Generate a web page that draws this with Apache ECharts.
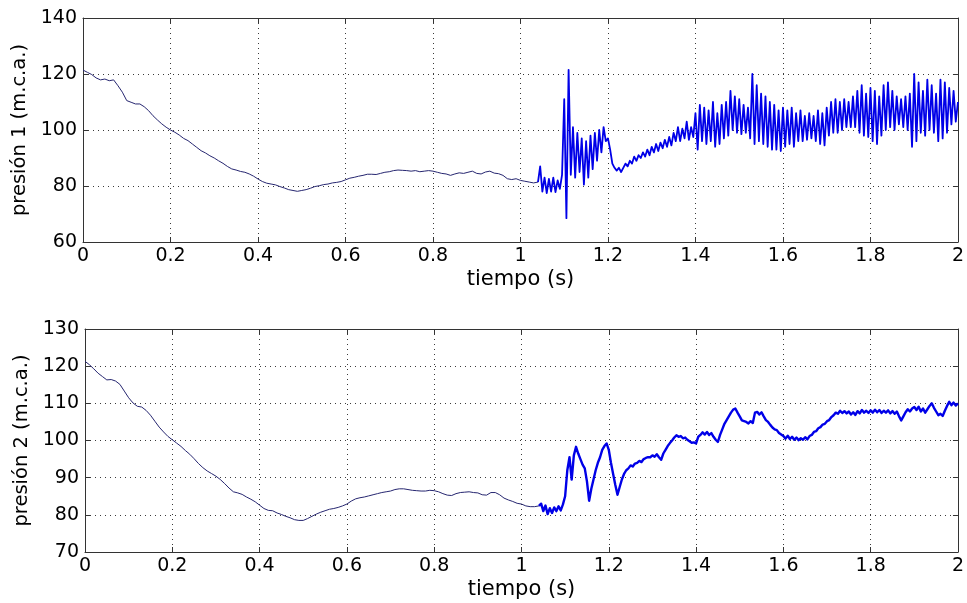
<!DOCTYPE html>
<html>
<head>
<meta charset="utf-8">
<script src="https://cdn.jsdelivr.net/npm/echarts@6/dist/echarts.min.js"></script>
<style>
  html, body { margin: 0; padding: 0; background: #fff; }
  #chart { width: 967px; height: 603px; }
</style>
</head>
<body>
<div id="chart"></div>
<script>
// ticks
const xTicks = [0, 0.2, 0.4, 0.6, 0.8, 1, 1.2, 1.4, 1.6, 1.8, 2];
const y1Ticks = [60, 80, 100, 120, 140];
const y2Ticks = [70, 80, 90, 100, 110, 120, 130];

// sampling: slow part 0..1.04 every 0.01 s, fast part 1.045..2 every 0.005 s
const slowStep = 0.01;
const fastStart = 1.045;
const fastStep = 0.005;

// presión 1, 0 - 1.04 s
const p1Slow = [
  121.4, 120.6, 119.8, 118.6, 117.9, 118.2, 117.6, 117.9, 115.8, 113.5,
  110.5, 109.9, 109.3, 109.3, 108.3, 106.9, 105.1, 103.6, 102.2, 101,
  100, 99.2, 98.2, 97, 96.2, 95, 93.8, 92.6, 91.8, 90.8,
  90, 89, 88.1, 87, 86.1, 85.7, 85.2, 84.9, 84.3, 83.5,
  82.5, 81.6, 81, 80.7, 80.4, 79.8, 79.3, 78.7, 78.4, 78.1,
  78.4, 78.7, 79.2, 79.8, 80.1, 80.5, 80.7, 81.1, 81.3, 81.6,
  82.2, 82.8, 83.1, 83.5, 83.8, 84.2, 84.2, 84.1, 84.5, 84.9,
  85.1, 85.5, 85.7, 85.6, 85.5, 85.3, 85.5, 85.1, 85.3, 85.5,
  85.3, 84.9, 84.5, 84.3, 83.8, 84.3, 84.7, 84.5, 84.9, 85.3,
  84.5, 84.3, 85, 85.3, 84.6, 84.4, 83.8, 82.6, 82.3, 82.6,
  82, 81.7, 81.4, 81.1, 81.4
];
// presión 1, 1.045 - 2 s
const p1Fast = [
  87, 78, 83, 77.5, 82.5, 78, 83, 77.8, 82, 79,
  84, 111, 68.5, 121.5, 84, 101, 83, 99, 85, 97,
  80.5, 96, 83, 98, 86, 99, 89, 100, 92, 101,
  96, 97, 93, 88, 86.5, 85.5, 86.5, 85, 86.5, 88,
  87, 89, 88, 90.5, 89, 91, 90, 92, 90.5, 93,
  91, 94, 92, 95, 92.5, 95.5, 93.5, 96.5, 94, 97.5,
  94.5, 99, 96, 101, 96, 100.5, 97, 103, 96.5, 101,
  97.5, 106, 93, 109, 96, 108, 95, 107, 96, 110,
  94, 106, 95, 109, 97, 110, 98, 114, 100, 112,
  99, 111, 98.5, 109, 99, 108, 97, 120, 95, 116,
  96, 113, 95, 112, 94, 110, 93, 109, 93, 107,
  92.5, 108, 94, 107, 95, 108, 94, 106, 96, 107,
  96, 105, 96.5, 106, 97, 105, 96, 107, 95, 106,
  94.5, 108, 98, 110, 99, 111, 99, 110, 100, 111,
  101, 110, 101, 112, 101, 114, 99, 116, 98, 113,
  97.5, 115, 96, 114, 95, 112, 98, 116, 100, 117,
  101, 114, 100, 112, 102, 111, 101, 112, 100, 113,
  94, 120, 96, 117, 99, 114, 98, 118, 100, 116,
  99, 113, 96, 118, 97, 117, 99, 115, 102, 114,
  103, 110
];

// presión 2, 0 - 1.04 s
const p2Slow = [
  121.3, 120.4, 119.3, 118.1, 117.2, 116.3, 116.4, 116, 115.1, 113.3,
  111.5, 110.1, 109.2, 109, 108.1, 106.8, 105.2, 103.6, 102.3, 101.1,
  100.2, 99.3, 98.4, 97.3, 96.3, 95.1, 93.8, 92.7, 91.8, 91.1,
  90.4, 89.5, 88.4, 87.2, 86.2, 85.9, 85.5, 84.8, 84.2, 83.5,
  82.6, 81.7, 81.2, 81.1, 80.5, 80.1, 79.6, 79.2, 78.7, 78.5,
  78.5, 79, 79.6, 80.2, 80.7, 81.1, 81.5, 81.7, 82, 82.4,
  82.9, 83.7, 84.3, 84.6, 84.8, 85.1, 85.4, 85.7, 86, 86.2,
  86.4, 86.8, 87, 87, 86.8, 86.6, 86.5, 86.4, 86.4, 86.6,
  86.5, 86.2, 85.7, 85.3, 85.2, 85.7, 86, 86.1, 86.2, 86,
  85.9, 85.4, 85.3, 86, 86, 85.4, 84.5, 84, 83.6, 83.1,
  82.9, 82.4, 82.2, 82.2, 82.4
];
// presión 2, 1.045 - 2 s
const p2Fast = [
  83, 81, 82.5, 80.2, 81.8, 80.5, 82, 81, 82.3, 81.2,
  82.8, 85, 92, 95.5, 89.5, 96, 98.3, 96.5, 95, 93.5,
  92.5, 89, 83.8, 87, 89.5, 92, 94, 95.5, 97.5, 98.5,
  99.2, 97.5, 94, 91, 88, 85.4, 87.5, 89.5, 91, 92,
  92.5, 93.3, 93, 93.8, 94, 94.5, 94.2, 95, 95.3, 95.5,
  95.5, 96, 95.6, 96.3, 95.5, 94.8, 96.5, 97.5, 98.5, 99.3,
  100, 100.8, 101.4, 101, 101.2, 100.6, 100.8, 100.2, 99.8, 99.4,
  99.5, 99.2, 101, 101.5, 102.2, 101.6, 102.3, 101.5, 102, 101,
  100.2, 99.6, 101.5, 103, 104.5, 105.5, 106.5, 107.5, 108.3, 108.6,
  107.5, 106.5, 105.4, 105.2, 105, 104.6, 105.2, 104.7, 107.5, 107.7,
  107, 107.6, 106.5, 105.5, 105, 104.2, 103.5, 103, 102.8, 102,
  101.6, 101.2, 100.5, 101.3, 100.4, 101, 100.2, 100.8, 100.1, 100.6,
  100.2, 100.9, 100.3, 101.2, 101.5, 102.3, 102.5, 103.3, 103.6, 104.3,
  104.5, 105.2, 105.5, 106.3, 106.8, 107.5, 107.2, 108, 107.4, 107.9,
  107.3, 107.8, 107, 107.6, 106.9, 107.9, 107.3, 108.2, 107.5, 108,
  107.4, 108.1, 107.5, 108.3, 107.6, 108.2, 107.4, 108, 107.5, 108.1,
  107.3, 107.9, 107.2, 107.8, 106.5, 105.4, 106.5, 107.6, 108.4, 107.8,
  108.6, 109, 108.2, 109.1, 107.8, 108.6, 107.5, 108.4, 109.3, 110,
  108.8, 107.8, 106.8, 107.2, 106.6, 108, 109.3, 110.4, 109.5, 110.2,
  109.4, 110
];

function slowPairs(slow) {//sample index -> [tiempo, presión]
  return slow.map((v, i) => [+(i * slowStep).toFixed(3), v]);
}
function fastPairs(slow, fast) {//starts from the last slow sample so the trace is continuous
  let out = [[+((slow.length - 1) * slowStep).toFixed(3), slow[slow.length - 1]]];
  fast.forEach((v, i) => out.push([+(fastStart + i * fastStep).toFixed(3), v]));
  return out;
}

const font = 'DejaVu Sans';
const gridLine = { show: true, lineStyle: { color: '#3a3a3a', type: [1, 4], width: 1 } };

function xAxisFor(gridIndex, top) {
  return {
    type: 'value', gridIndex: gridIndex, position: top ? 'top' : 'bottom',
    min: xTicks[0], max: xTicks[xTicks.length - 1], interval: xTicks[1] - xTicks[0],
    name: top ? '' : 'tiempo (s)', nameLocation: 'middle', nameGap: 27,
    nameTextStyle: { fontFamily: font, fontSize: 21, color: '#000' },
    axisLine: { show: true, onZero: false, lineStyle: { color: '#333', width: 1 } },
    axisTick: { show: true, inside: true, length: 5, lineStyle: { color: '#333' } },
    axisLabel: {
      show: !top, fontFamily: font, fontSize: 19, color: '#000', margin: 5,
      formatter: v => String(+v.toFixed(1))
    },
    splitLine: top ? { show: false } : gridLine
  };
}

function yAxisFor(gridIndex, ticks, name, right) {
  return {
    type: 'value', gridIndex: gridIndex, position: right ? 'right' : 'left',
    min: ticks[0], max: ticks[ticks.length - 1], interval: ticks[1] - ticks[0],
    name: right ? '' : name, nameLocation: 'middle', nameGap: 45,
    nameTextStyle: { fontFamily: font, fontSize: 19.5, color: '#000' },
    axisLine: { show: true, onZero: false, lineStyle: { color: '#333', width: 1 } },
    axisTick: { show: true, inside: true, length: 5, lineStyle: { color: '#333' } },
    axisLabel: { show: !right, fontFamily: font, fontSize: 19, color: '#000', margin: 6 },
    splitLine: right ? { show: false } : gridLine
  };
}

function trace(xAxisIndex, yAxisIndex, data, color, width) {
  return {
    type: 'line', xAxisIndex: xAxisIndex, yAxisIndex: yAxisIndex,
    showSymbol: false, symbol: 'none', silent: true,
    lineStyle: { color: color, width: width, join: 'round' }, data: data
  };
}

const slowColor = '#262670';   // thin trace looks dark navy
const fastColor = '#0000e8';   // dense part bright blue

const chart = echarts.init(document.getElementById('chart'), null, { renderer: 'canvas' });
chart.setOption({
  animation: false,
  backgroundColor: '#fff',
  grid: [
    { left: 83, top: 18, width: 876, height: 224 },
    { left: 85, top: 329, width: 875, height: 223 }
  ],
  xAxis: [xAxisFor(0, false), xAxisFor(0, true), xAxisFor(1, false), xAxisFor(1, true)],
  yAxis: [
    yAxisFor(0, y1Ticks, 'presión 1 (m.c.a.)', false),
    yAxisFor(0, y1Ticks, '', true),
    yAxisFor(1, y2Ticks, 'presión 2 (m.c.a.)', false),
    yAxisFor(1, y2Ticks, '', true)
  ],
  series: [
    trace(0, 0, slowPairs(p1Slow), slowColor, 1),
    trace(0, 0, fastPairs(p1Slow, p1Fast), fastColor, 1.8),
    trace(2, 2, slowPairs(p2Slow), slowColor, 1),
    trace(2, 2, fastPairs(p2Slow, p2Fast), fastColor, 2.4)
  ]
});
</script>
</body>
</html>
